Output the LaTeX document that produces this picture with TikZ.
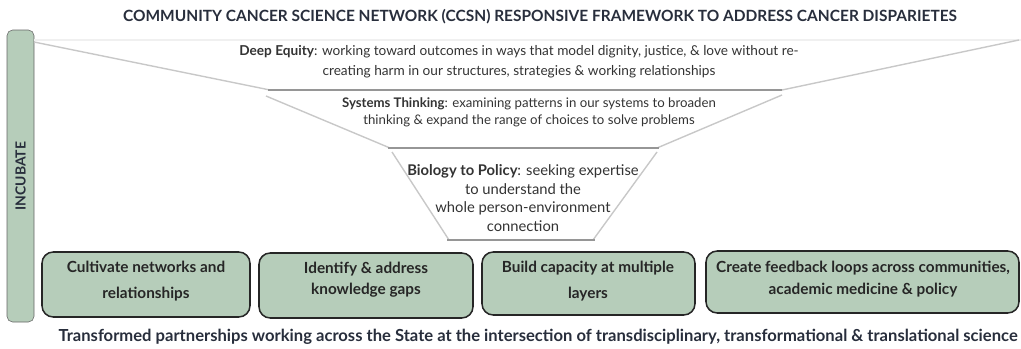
\documentclass[tikz,border=0pt]{standalone}
\usepackage{fontspec}
\setmainfont{Lato}
\usepackage{tikz}
\usetikzlibrary{calc}
\definecolor{sage}{RGB}{182,205,186}
\definecolor{inkdark}{RGB}{40,46,60}
\definecolor{funnelgray}{RGB}{200,200,200}
\definecolor{shelfgray}{RGB}{150,150,150}

\begin{document}
\begin{tikzpicture}[x=0.025cm, y=-0.025cm,
    actionbox/.style={draw=black!85, line width=1.1pt, fill=sage, rounded corners=8pt},
    boxtext/.style={font=\fontsize{10.9}{18.4}\selectfont\bfseries, text=black!85, align=center},
    funnel/.style={draw=funnelgray, line width=1pt},
    shelf/.style={draw=shelfgray, line width=1.4pt},
    levtext/.style={align=center, text=black!80}]
  \useasboundingbox (0,0) rectangle (1021,349);
  % Titre
  \node[font=\fontsize{11}{13}\selectfont\bfseries, text=inkdark] (title) at (540,17)
    {COMMUNITY CANCER SCIENCE NETWORK (CCSN) RESPONSIVE FRAMEWORK TO ADDRESS CANCER DISPARIETES};
  % Barre INCUBATE
  \draw[fill=sage, draw=black!60, line width=0.4pt, rounded corners=4pt] (7,30) rectangle (34,322);
  \node[rotate=90, font=\fontsize{9.9}{11}\selectfont\bfseries, text=inkdark] (incubate) at (20.5,176) {INCUBATE};
  % Entonnoir : niveau 1
  \draw[draw=black!6, line width=0.8pt] (34,40) -- (1021,40);
  \draw[funnel] (34,42) -- (270,90);
  \draw[funnel] (1019,40) -- (782,90);
  \draw[shelf] (268,90) -- (782,90);
  \node[levtext, font=\fontsize{9.7}{14.2}\selectfont] (equity) at (519,62)
    {\textbf{Deep Equity}: working toward outcomes in ways that model dignity, justice, \& love without re-\\
     creating harm in our structures, strategies \& working relationships};
  % Niveau 2
  \draw[funnel] (266,96) -- (390,148);
  \draw[funnel] (782,95) -- (657,148);
  \draw[shelf] (388,148) -- (659,148);
  \node[levtext, font=\fontsize{9.4}{12}\selectfont] (systems) at (529,112.5)
    {\textbf{Systems Thinking}: examining patterns in our systems to broaden\\
     thinking \& expand the range of choices to solve problems};
  % Niveau 3
  \draw[funnel] (392,152) -- (449,240);
  \draw[funnel] (657,152) -- (593,240);
  \draw[shelf] (447,240) -- (595,240);
  \node[levtext, font=\fontsize{10.5}{13.4}\selectfont] (biology) at (523,198)
    {\textbf{Biology to Policy}: seeking expertise\\
     to understand the\\
     whole person-environment\hspace*{22pt}\\
     connection};
  % Boites d'action
  \draw[actionbox] (42,252) rectangle (250,317);
  \node[boxtext] (cultivate) at (146,281) {Cultivate networks and\\relationships};
  \draw[actionbox] (259,253) rectangle (473,318);
  \node[boxtext, font=\fontsize{10.9}{15}\selectfont\bfseries] (identify) at (366,280) {Identify \& address\\knowledge gaps};
  \draw[actionbox] (482,252) rectangle (695,315);
  \node[boxtext] (capacity) at (588,281) {Build capacity at multiple\\layers};
  \draw[actionbox] (706,251) rectangle (1019,313);
  \node[boxtext, font=\fontsize{10.9}{15.5}\selectfont\bfseries] (feedback) at (863,279) {Create feedback loops across communities,\\academic medicine \& policy};
  % Texte du bas
  \node[font=\fontsize{11.8}{13}\selectfont\bfseries, text=inkdark] (partners) at (538,337)
    {Transformed partnerships working across the State at the intersection of transdisciplinary, transformational \& translational science};
\end{tikzpicture}
\end{document}
